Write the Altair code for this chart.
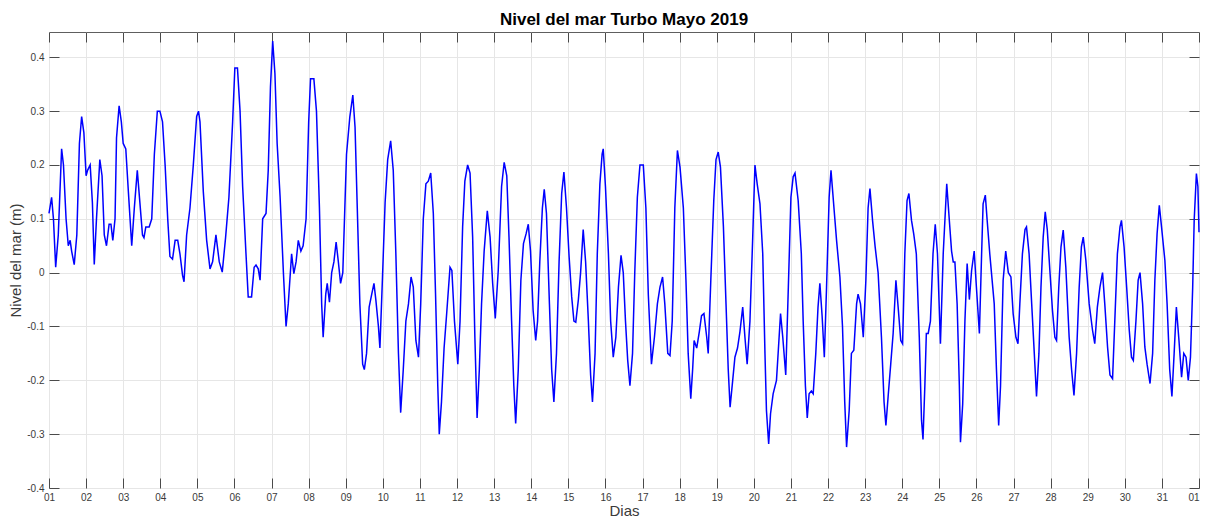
import altair as alt
import pandas as pd

# ---- Data (day of May 2019, sea level in m) ----
dias = [
    1.00, 1.07, 1.12, 1.18, 1.25, 1.34, 1.39, 1.46, 1.52, 1.57, 1.61, 1.68, 1.75, 1.82, 1.88, 1.94,
    2.00, 2.04, 2.11, 2.17, 2.22, 2.28, 2.37, 2.43, 2.49, 2.55, 2.62, 2.67, 2.72, 2.78, 2.82, 2.89, 2.95,
    3.00, 3.07, 3.14, 3.23, 3.30, 3.38, 3.45, 3.52, 3.56, 3.61, 3.70, 3.77, 3.84, 3.92, 3.99,
    4.06, 4.13, 4.20, 4.26, 4.33, 4.40, 4.47, 4.53, 4.60, 4.64, 4.71, 4.80, 4.89, 4.98,
    5.03, 5.07, 5.16, 5.25, 5.34, 5.41, 5.50, 5.59, 5.67, 5.76, 5.85, 5.95,
    6.01, 6.08, 6.15, 6.22, 6.31, 6.37, 6.46, 6.53, 6.58, 6.64, 6.69, 6.76, 6.85, 6.91, 6.97,
    7.03, 7.09, 7.15, 7.23, 7.32, 7.39, 7.45, 7.54, 7.60, 7.66, 7.72, 7.79, 7.85, 7.93,
    8.00, 8.05, 8.14, 8.21, 8.29, 8.35, 8.39, 8.46, 8.50, 8.56, 8.62, 8.68, 8.74, 8.80, 8.86, 8.92,
    9.02, 9.11, 9.19, 9.25, 9.31, 9.38, 9.455, 9.50, 9.56, 9.63, 9.70, 9.76, 9.81, 9.88, 9.92, 9.99,
    10.06, 10.13, 10.21, 10.28, 10.35, 10.42, 10.48, 10.55, 10.62, 10.69, 10.76, 10.82, 10.89, 10.96,
    11.02, 11.09, 11.16, 11.225, 11.29, 11.36, 11.42, 11.48, 11.52, 11.58, 11.65, 11.72, 11.81, 11.86, 11.93,
    12.02, 12.08, 12.15, 12.21, 12.285, 12.35, 12.42, 12.48, 12.54, 12.60, 12.66, 12.73, 12.815, 12.89, 12.96,
    13.03, 13.11, 13.20, 13.27, 13.34, 13.40, 13.47, 13.53, 13.58, 13.65, 13.72, 13.79, 13.86, 13.92, 13.98,
    14.05, 14.12, 14.17, 14.23, 14.30, 14.35, 14.41, 14.49, 14.55, 14.61, 14.68, 14.75, 14.82, 14.88, 14.95,
    15.02, 15.09, 15.15, 15.20, 15.27, 15.33, 15.40, 15.465, 15.54, 15.60, 15.65, 15.72, 15.78, 15.85, 15.91, 15.94,
    16.00, 16.08, 16.14, 16.21, 16.28, 16.35, 16.42, 16.48, 16.54, 16.60, 16.66, 16.73, 16.79, 16.86, 16.93,
    17.02, 17.09, 17.155, 17.24, 17.32, 17.40, 17.47, 17.54, 17.60, 17.68, 17.74, 17.80, 17.87, 17.94,
    18.01, 18.10, 18.17, 18.23, 18.30, 18.35, 18.39, 18.46, 18.53, 18.59, 18.655, 18.73, 18.77, 18.84, 18.92, 18.98,
    19.04, 19.10, 19.18, 19.25, 19.31, 19.36, 19.43, 19.49, 19.56, 19.625, 19.70, 19.76, 19.82, 19.895, 19.97,
    20.03, 20.09, 20.165, 20.24, 20.30, 20.34, 20.40, 20.45, 20.52, 20.61, 20.66, 20.72, 20.78, 20.86, 20.93,
    21.00, 21.06, 21.11, 21.195, 21.28, 21.33, 21.39, 21.44, 21.49, 21.55, 21.60, 21.67, 21.73, 21.78, 21.84, 21.90, 21.96,
    22.03, 22.08, 22.16, 22.23, 22.32, 22.39, 22.45, 22.50, 22.57, 22.63, 22.695, 22.77, 22.81, 22.875, 22.95,
    23.02, 23.08, 23.13, 23.20, 23.27, 23.35, 23.44, 23.51, 23.56, 23.62, 23.69, 23.755, 23.83, 23.89, 23.96,
    24.01, 24.07, 24.13, 24.18, 24.25, 24.31, 24.38, 24.46, 24.52, 24.56, 24.61, 24.65, 24.70, 24.76, 24.83, 24.89, 24.95,
    25.03, 25.105, 25.20, 25.27, 25.33, 25.375, 25.42, 25.48, 25.54, 25.57, 25.63, 25.69, 25.75, 25.81, 25.87, 25.94,
    26.00, 26.08, 26.14, 26.18, 26.24, 26.29, 26.36, 26.44, 26.48, 26.54, 26.60, 26.65, 26.72, 26.79, 26.86, 26.93, 26.99,
    27.065, 27.12, 27.17, 27.24, 27.31, 27.35, 27.42, 27.49, 27.56, 27.62, 27.685, 27.74, 27.80, 27.855, 27.91, 27.98,
    28.05, 28.115, 28.16, 28.22, 28.28, 28.34, 28.41, 28.50, 28.565, 28.63, 28.70, 28.77, 28.83, 28.88, 28.95,
    29.04, 29.13, 29.19, 29.26, 29.33, 29.40, 29.46, 29.535, 29.60, 29.67, 29.73, 29.80, 29.87, 29.91, 29.98,
    30.05, 30.12, 30.18, 30.23, 30.30, 30.36, 30.41, 30.48, 30.54, 30.60, 30.68, 30.75, 30.81, 30.87, 30.93, 30.99,
    31.08, 31.14, 31.21, 31.27, 31.33, 31.39, 31.46, 31.53, 31.59, 31.65, 31.71, 31.77, 31.83, 31.87, 31.93, 31.97,
    32.00,
]

nivel = [
    0.11, 0.14, 0.10, 0.01, 0.07, 0.23, 0.20, 0.10, 0.05, 0.06, 0.04, 0.015, 0.07, 0.24, 0.29, 0.26,
    0.18, 0.19, 0.20, 0.13, 0.015, 0.10, 0.21, 0.18, 0.07, 0.05, 0.09, 0.09, 0.06, 0.10, 0.25, 0.31, 0.28,
    0.24, 0.23, 0.15, 0.05, 0.12, 0.19, 0.13, 0.07, 0.065, 0.085, 0.085, 0.10, 0.22, 0.30, 0.30,
    0.28, 0.20, 0.10, 0.03, 0.025, 0.06, 0.06, 0.035, -0.005, -0.017, 0.07, 0.12, 0.20, 0.29,
    0.30, 0.28, 0.15, 0.06, 0.007, 0.02, 0.07, 0.02, 0.001, 0.065, 0.14, 0.28,
    0.38, 0.38, 0.30, 0.16, 0.035, -0.045, -0.045, 0.01, 0.014, 0.007, -0.014, 0.10, 0.11, 0.19, 0.345,
    0.43, 0.37, 0.24, 0.14, -0.002, -0.10, -0.058, 0.035, -0.002, 0.02, 0.06, 0.04, 0.05, 0.10,
    0.28, 0.36, 0.36, 0.30, 0.12, -0.058, -0.12, -0.04, -0.02, -0.055, 0.0, 0.02, 0.057, 0.02, -0.02, 0.0,
    0.22, 0.29, 0.33, 0.27, 0.12, -0.058, -0.17, -0.18, -0.15, -0.064, -0.04, -0.02, -0.05, -0.10, -0.14, -0.008,
    0.13, 0.21, 0.245, 0.19, 0.035, -0.15, -0.26, -0.18, -0.09, -0.058, -0.008, -0.027, -0.126, -0.157,
    -0.058, 0.10, 0.165, 0.17, 0.185, 0.11, -0.04, -0.21, -0.30, -0.24, -0.14, -0.076, 0.01, 0.004, -0.09,
    -0.17, -0.09, 0.085, 0.17, 0.20, 0.185, 0.066, -0.12, -0.27, -0.18, -0.058, 0.04, 0.115, 0.066, -0.02,
    -0.085, 0.004, 0.16, 0.205, 0.18, 0.066, -0.09, -0.21, -0.28, -0.18, -0.014, 0.054, 0.072, 0.09, 0.04,
    -0.07, -0.126, -0.09, 0.02, 0.12, 0.155, 0.11, -0.058, -0.18, -0.24, -0.15, 0.02, 0.147, 0.187, 0.12,
    0.03, -0.045, -0.09, -0.092, -0.05, 0.0, 0.08, 0.02, -0.09, -0.19, -0.24, -0.15, 0.035, 0.165, 0.22, 0.23,
    0.16, 0.035, -0.09, -0.157, -0.12, -0.027, 0.032, 0.0, -0.09, -0.163, -0.21, -0.15, 0.0, 0.14, 0.20,
    0.20, 0.12, -0.04, -0.17, -0.12, -0.058, -0.027, -0.008, -0.058, -0.15, -0.154, -0.09, 0.12, 0.227,
    0.196, 0.12, -0.014, -0.15, -0.234, -0.18, -0.126, -0.14, -0.11, -0.08, -0.076, -0.12, -0.15, -0.014, 0.134, 0.21,
    0.224, 0.196, 0.085, -0.058, -0.18, -0.25, -0.20, -0.157, -0.14, -0.11, -0.064, -0.12, -0.17, -0.09, 0.066,
    0.20, 0.165, 0.128, 0.035, -0.15, -0.256, -0.318, -0.262, -0.225, -0.20, -0.144, -0.076, -0.12, -0.19, -0.027,
    0.14, 0.178, 0.185, 0.134, 0.035, -0.09, -0.21, -0.27, -0.225, -0.22, -0.225, -0.15, -0.064, -0.02, -0.08, -0.157, -0.027,
    0.14, 0.19, 0.12, 0.06, -0.008, -0.10, -0.24, -0.324, -0.256, -0.15, -0.144, -0.058, -0.04, -0.058, -0.12,
    -0.014, 0.12, 0.156, 0.097, 0.048, 0.0, -0.12, -0.24, -0.284, -0.23, -0.17, -0.113, -0.014, -0.064, -0.126,
    -0.132, 0.035, 0.134, 0.147, 0.097, 0.072, 0.035, -0.12, -0.274, -0.31, -0.21, -0.113, -0.113, -0.09, 0.035, 0.09, 0.035,
    -0.132, 0.035, 0.165, 0.097, 0.04, 0.02, 0.02, -0.058, -0.21, -0.315, -0.244, -0.09, 0.017, -0.05, 0.004, 0.04,
    -0.027, -0.113, 0.035, 0.128, 0.144, 0.097, 0.035, -0.027, -0.058, -0.18, -0.284, -0.21, -0.014, 0.04, 0.0, -0.008, -0.076,
    -0.12, -0.132, -0.058, 0.035, 0.08, 0.085, 0.035, -0.058, -0.15, -0.23, -0.15, -0.027, 0.066, 0.113, 0.08, 0.004,
    -0.07, -0.12, -0.126, -0.027, 0.048, 0.079, 0.01, -0.12, -0.18, -0.228, -0.15, -0.027, 0.048, 0.066, 0.023,
    -0.058, -0.107, -0.132, -0.064, -0.027, 0.0, -0.058, -0.138, -0.19, -0.197, -0.09, 0.035, 0.085, 0.097, 0.048,
    -0.027, -0.107, -0.157, -0.163, -0.09, -0.014, 0.0, -0.058, -0.138, -0.17, -0.206, -0.15, -0.014, 0.072, 0.125, 0.085,
    0.023, -0.058, -0.18, -0.23, -0.15, -0.064, -0.126, -0.194, -0.15, -0.157, -0.20, -0.157, -0.027, 0.097, 0.184, 0.16,
    0.075,
]

dias_ticks = list(range(1, 33))
nivel_ticks = [-0.4, -0.3, -0.2, -0.1, 0.0, 0.1, 0.2, 0.3, 0.4]
titulo = "Nivel del mar Turbo Mayo 2019"
titulo_x = "Dias"
titulo_y = "Nivel del mar (m)"

df = pd.DataFrame({"dia": dias, "nivel": nivel})

FONT = "Liberation Sans"
LABEL_C = "#3a3a3a"
TICK_C = "#4a4a4a"
GRID_C = "#e6e6e6"

xscale = alt.Scale(domain=[1, 32], nice=False, zero=False)
yscale = alt.Scale(domain=[-0.4, 0.447], nice=False, zero=False)

x_lab = "datum.value > 31 ? '01' : (datum.value < 10 ? '0' + datum.value : '' + datum.value)"
y_lab = "toString(round(datum.value * 10) / 10)"
x_align = {"condition": {"test": "datum.value > 31", "value": "right"}, "value": "center"}

base = alt.Chart(df)

main = base.mark_line(color="#0000ff", strokeWidth=1.5).encode(
    x=alt.X(
        "dia:Q", scale=xscale, title=titulo_x,
        axis=alt.Axis(orient="bottom", values=dias_ticks, labelExpr=x_lab, grid=True,
                      ticks=False, tickSize=0, domain=False, labelPadding=4,
                      labelFontSize=10, labelFont=FONT, labelColor=LABEL_C,
                      labelAlign=x_align,
                      labelOverlap=False, labelFlush=False,
                      titleFont=FONT, titleFontSize=15, titleFontWeight="normal",
                      titleColor=LABEL_C, titlePadding=1,
                      gridColor=GRID_C, gridWidth=1),
    ),
    y=alt.Y(
        "nivel:Q", scale=yscale, title=titulo_y,
        axis=alt.Axis(orient="left", values=nivel_ticks, labelExpr=y_lab, grid=True,
                      ticks=False, tickSize=0, domain=False, labelPadding=5,
                      labelFontSize=10, labelFont=FONT, labelColor=LABEL_C,
                      labelOverlap=False, labelFlush=False,
                      titleFont=FONT, titleFontSize=15, titleFontWeight="normal",
                      titleColor=LABEL_C, titlePadding=3,
                      gridColor=GRID_C, gridWidth=1),
    ),
)


def tick_axis(orient, values):
    return alt.Axis(orient=orient, values=values, offset=-10, tickSize=10, ticks=True,
                    tickColor=TICK_C, tickWidth=1, labels=False, grid=False, domain=False)


ticks_bl = base.mark_line(strokeOpacity=0).encode(
    x=alt.X("dia:Q", scale=xscale, title=None, axis=tick_axis("bottom", dias_ticks)),
    y=alt.Y("nivel:Q", scale=yscale, title=None, axis=tick_axis("left", nivel_ticks)),
)
ticks_tr = base.mark_line(strokeOpacity=0).encode(
    x=alt.X("dia:Q", scale=xscale, title=None, axis=tick_axis("top", dias_ticks)),
    y=alt.Y("nivel:Q", scale=yscale, title=None, axis=tick_axis("right", nivel_ticks)),
)

chart = (
    alt.layer(main, ticks_bl, ticks_tr)
    .resolve_axis(x="independent", y="independent")
    .properties(
        width=1150,
        height=456,
        padding={"left": 41, "top": 24, "right": 2, "bottom": 29},
        autosize=alt.AutoSizeParams(type="none"),
        title=alt.TitleParams(titulo, fontSize=17, font=FONT, fontWeight="bold",
                              color="#000000", anchor="middle", offset=3),
        background="white",
    )
    .configure_view(stroke="#5e5e5e", strokeWidth=1)
)

chart.save("out.html", embed_options={"renderer": "svg", "actions": False})
